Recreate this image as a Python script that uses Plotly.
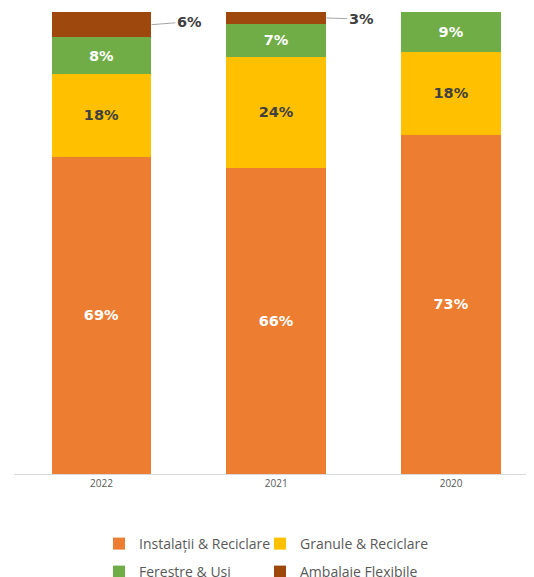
import plotly.graph_objects as go

years = ['2022', '2021', '2020']
instalatii = [68.7, 66.3, 73.4]
granule = [17.9, 24.0, 18.0]
ferestre = [7.9, 7.1, 8.6]
ambalaje = [5.5, 2.6, 0.0]

series = [
    ('Instalații & Reciclare', instalatii, '#ED7D31', 'white'),
    ('Granule & Reciclare', granule, '#FFC000', '#404040'),
    ('Ferestre & Usi', ferestre, '#70AD47', 'white'),
    ('Ambalaje Flexibile', ambalaje, '#9E480E', 'white'),
]

fig = go.Figure()

for k, (name, vals, color, txtcolor) in enumerate(series):
    inside = name != 'Ambalaje Flexibile'
    fig.add_trace(go.Bar(
        x=years,
        y=vals,
        name=name,
        marker=dict(color=color, line=dict(width=0)),
        text=[f'<b>{v:.0f}%</b>' for v in vals] if inside else None,
        textposition='inside' if inside else 'none',
        insidetextanchor='middle',
        textangle=0,
        constraintext='none',
        insidetextfont=dict(family='DejaVu Sans', size=14.5, color=txtcolor),
        legend='legend' if k == 0 else f'legend{k + 1}',
    ))

# outside labels for the small brown segments, with leader lines
for i, v in enumerate(ambalaje):
    if v <= 0:
        continue
    base = instalatii[i] + granule[i] + ferestre[i]
    fig.add_annotation(
        xref='x', yref='y',
        x=i, y=base + v / 2,
        xshift=50,
        text=f'<b>{v:.0f}%</b>',
        showarrow=True, arrowhead=0, arrowwidth=1, arrowcolor='#A6A6A6',
        axref='pixel', ayref='pixel',
        ax=38 if i == 0 else 35, ay=-3 if i == 0 else 1,
        font=dict(family='DejaVu Sans', size=14.5, color='#404040'),
    )

# one legend per item so the 2x2 grid lines up like the original
# (page body has an 8px margin, so positions are shifted back by 8px)
legend_style = dict(
    orientation='h',
    xref='container', yref='container',
    xanchor='left', yanchor='middle',
    font=dict(family='Open Sans', size=14, color='#595959'),
    itemclick=False,
    bgcolor='rgba(0,0,0,0)',
)
col_x = [91 / 534, 252 / 534]
row_y = [1 - 536 / 577, 1 - 564 / 577]

fig.update_layout(
    barmode='stack',
    bargap=0.43,
    width=534, height=577,
    margin=dict(l=6, r=8, t=4, b=111),
    plot_bgcolor='white',
    paper_bgcolor='white',
    showlegend=True,
    legend=dict(legend_style, x=col_x[0], y=row_y[0]),
    legend2=dict(legend_style, x=col_x[1], y=row_y[0]),
    legend3=dict(legend_style, x=col_x[0], y=row_y[1]),
    legend4=dict(legend_style, x=col_x[1], y=row_y[1]),
    xaxis=dict(
        type='category',
        range=[-0.5, 2.474],
        showline=True, linecolor='#D9D9D9', linewidth=1,
        ticks='', showgrid=False,
        tickfont=dict(family='Open Sans', size=10, color='#595959'),
    ),
    yaxis=dict(range=[0, 100], visible=False, showgrid=False),
)

fig.write_html('out.html')
